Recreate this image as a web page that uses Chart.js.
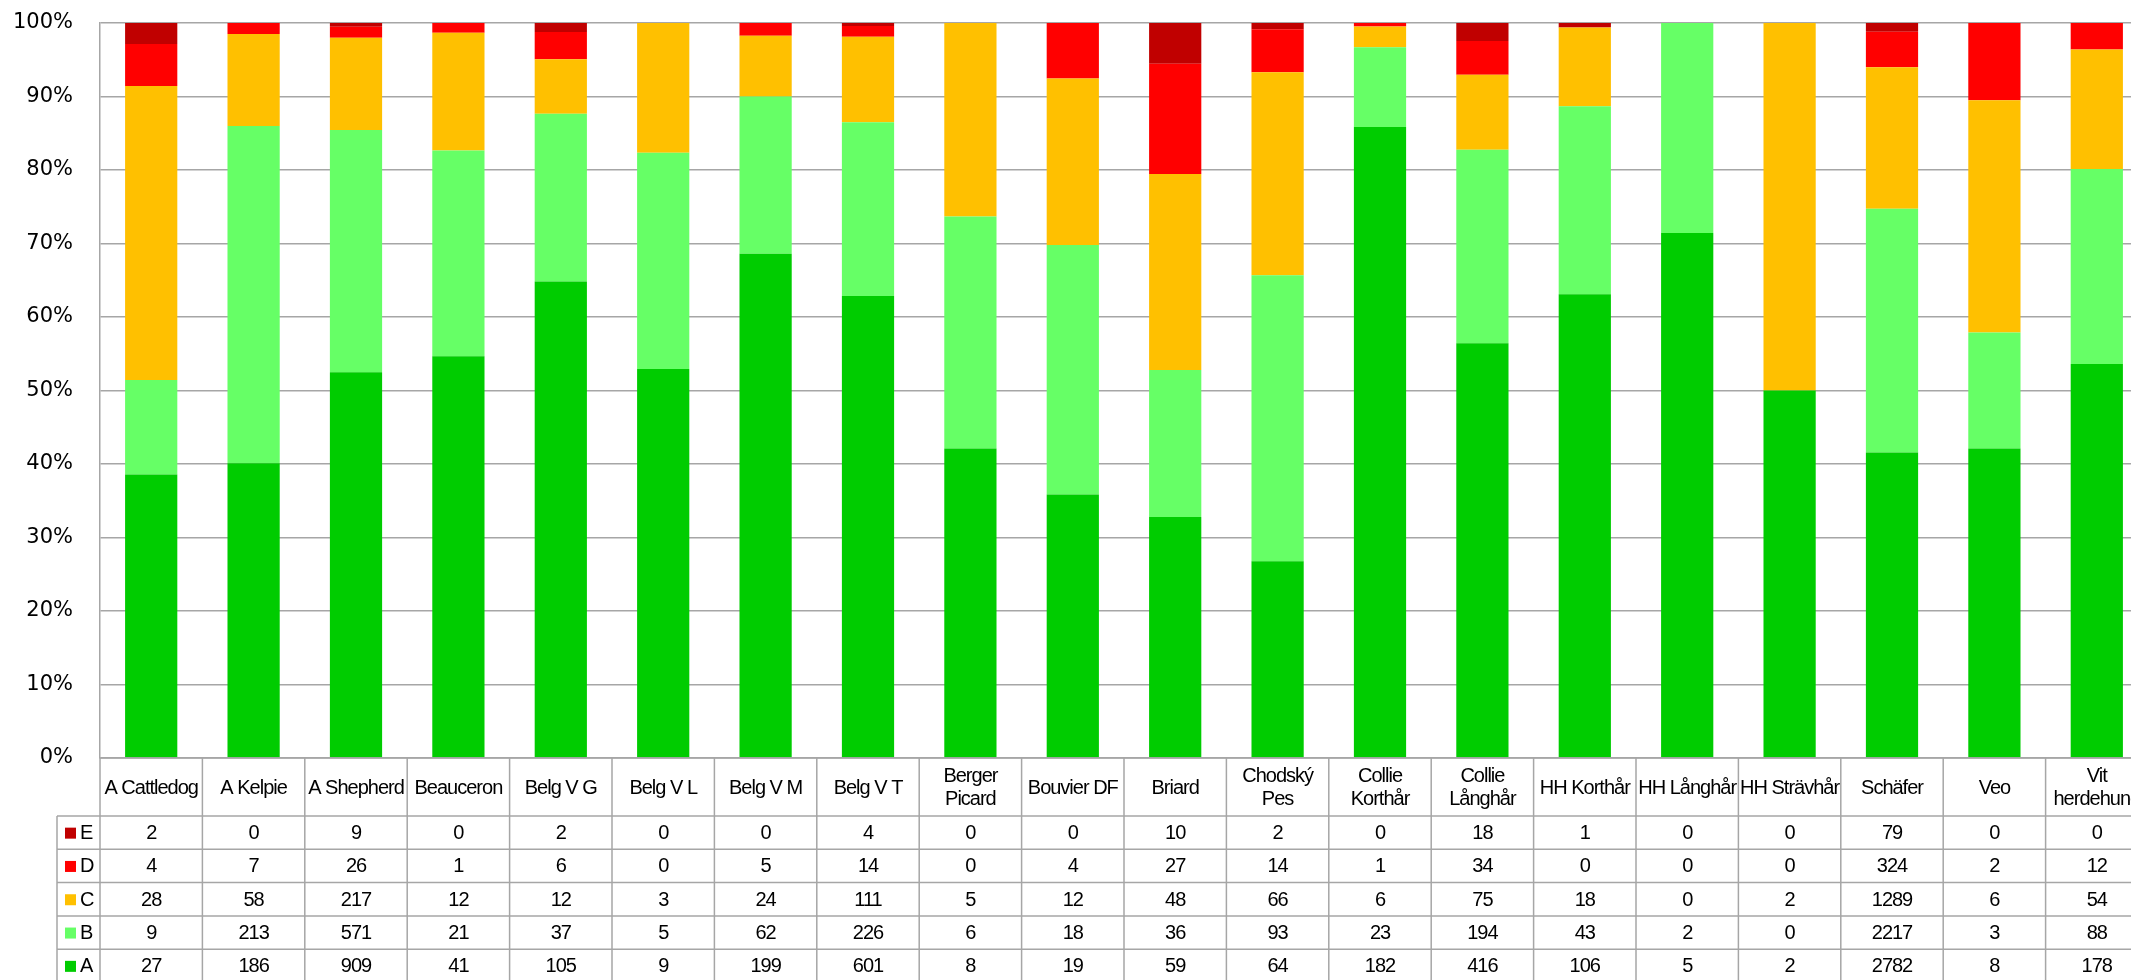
<!DOCTYPE html>
<html>
<head>
<meta charset="utf-8">
<script src="https://cdn.jsdelivr.net/npm/chart.js@4.4.1/dist/chart.umd.min.js"></script>
<style>
    html, body { margin: 0; padding: 0; background: #fff; overflow: hidden; }
    #wrap { width: 2150px; height: 980px; }
</style>
</head>
<body>
<div id="wrap"><canvas id="chart" width="2150" height="980"></canvas></div>
<script>
// raser / kategorier
const breeds = [
    'A Cattledog', 'A Kelpie', 'A Shepherd', 'Beauceron', 'Belg V G', 'Belg V L',
    'Belg V M', 'Belg V T', ['Berger', 'Picard'], 'Bouvier DF', 'Briard',
    ['Chodský', 'Pes'], ['Collie', 'Korthår'], ['Collie', 'Långhår'],
    'HH Korthår', 'HH Långhår', 'HH Strävhår', 'Schäfer', 'Veo', ['Vit', 'herdehund']
];

// antal per grad
const countsE = [2, 0, 9, 0, 2, 0, 0, 4, 0, 0, 10, 2, 0, 18, 1, 0, 0, 79, 0, 0];
const countsD = [4, 7, 26, 1, 6, 0, 5, 14, 0, 4, 27, 14, 1, 34, 0, 0, 0, 324, 2, 12];
const countsC = [28, 58, 217, 12, 12, 3, 24, 111, 5, 12, 48, 66, 6, 75, 18, 0, 2, 1289, 6, 54];
const countsB = [9, 213, 571, 21, 37, 5, 62, 226, 6, 18, 36, 93, 23, 194, 43, 2, 0, 2217, 3, 88];
const countsA = [27, 186, 909, 41, 105, 9, 199, 601, 8, 19, 59, 64, 182, 416, 106, 5, 2, 2782, 8, 178];

const yTicks = [0, 10, 20, 30, 40, 50, 60, 70, 80, 90, 100];

const gradeColors = {
    A: '#00cc00',
    B: '#66ff66',
    C: '#ffc000',
    D: '#ff0000',
    E: '#c00000'
};

// tabellrader uppifrån och ner
const tableRows = [
    { label: 'E', data: countsE },
    { label: 'D', data: countsD },
    { label: 'C', data: countsC },
    { label: 'B', data: countsB },
    { label: 'A', data: countsA }
];

const totals = breeds.map((b, i) =>
    countsA[i] + countsB[i] + countsC[i] + countsD[i] + countsE[i]);

const toPercent = arr => arr.map((v, i) => totals[i] ? v / totals[i] * 100 : 0);

const gridColor = '#a6a6a6';
const tableFont = '20px "Liberation Sans", Arial, sans-serif';

// ritar datatabellen under diagrammet
const dataTable = {
    id: 'dataTable',
    afterDraw(chart) {
        const ctx = chart.ctx;
        const xScale = chart.scales.x;
        const area = chart.chartArea;
        const n = breeds.length;
        const cellW = (area.right - area.left) / n;
        const top = area.bottom;
        const headH = 58;
        const rowH = 33.3;
        const rowLeft = 57;
        const bottom = top + headH + rowH * tableRows.length;

        ctx.save();
        ctx.strokeStyle = gridColor;
        ctx.lineWidth = 1.5;

        // horisontella linjer
        ctx.beginPath();
        ctx.moveTo(area.left, top);
        ctx.lineTo(area.right, top);
        for (let r = 0; r <= tableRows.length; r++) {
            const y = top + headH + r * rowH;
            ctx.moveTo(rowLeft, y);
            ctx.lineTo(area.right, y);
        }
        // vertikala linjer
        for (let i = 0; i <= n; i++) {
            const x = area.left + i * cellW;
            ctx.moveTo(x, top);
            ctx.lineTo(x, bottom);
        }
        ctx.moveTo(rowLeft, top + headH);
        ctx.lineTo(rowLeft, bottom);
        ctx.stroke();

        ctx.fillStyle = '#000';
        ctx.font = tableFont;
        ctx.letterSpacing = '-1px';
        ctx.textAlign = 'center';
        ctx.textBaseline = 'middle';

        // rubriker
        breeds.forEach((b, i) => {
            const cx = xScale.getPixelForValue(i);
            const lines = Array.isArray(b) ? b : [b];
            const mid = top + headH / 2 + 1;
            lines.forEach((line, k) => {
                const y = mid + (k - (lines.length - 1) / 2) * 23;
                ctx.fillText(line, cx, y);
            });
        });

        // värden
        tableRows.forEach((row, r) => {
            const cy = top + headH + r * rowH + rowH / 2 + 1;
            row.data.forEach((v, i) => {
                ctx.fillText(String(v), xScale.getPixelForValue(i), cy);
            });
            // legendnyckel
            ctx.fillStyle = gradeColors[row.label];
            ctx.fillRect(65, cy - 6, 11, 11);
            ctx.fillStyle = '#000';
            ctx.textAlign = 'left';
            ctx.fillText(row.label, 80, cy);
            ctx.textAlign = 'center';
        });
        ctx.restore();
    }
};

const datasets = ['A', 'B', 'C', 'D', 'E'].map(g => ({
    label: g,
    data: toPercent({ A: countsA, B: countsB, C: countsC, D: countsD, E: countsE }[g]),
    backgroundColor: gradeColors[g],
    borderWidth: 0,
    barPercentage: 0.51,
    categoryPercentage: 1.0
}));

new Chart(document.getElementById('chart'), {
    type: 'bar',
    data: {
        labels: breeds.map(b => Array.isArray(b) ? b.join(' ') : b),
        datasets: datasets
    },
    options: {
        responsive: false,
        animation: false,
        devicePixelRatio: 1,
        layout: {
            padding: { top: 23, bottom: 222, right: 2, left: 0 }
        },
        plugins: {
            legend: { display: false },
            tooltip: { enabled: false },
            title: { display: false }
        },
        scales: {
            x: {
                display: false,
                stacked: true
            },
            y: {
                stacked: true,
                min: 0,
                max: 100,
                afterFit: scale => {
                    scale.width = 100;
                    // ticks.padding ska inte påverka höjden
                    scale.paddingTop = 13;
                    scale.paddingBottom = 13;
                },
                afterBuildTicks: scale => {
                    scale.ticks = yTicks.map(v => ({ value: v }));
                },
                ticks: {
                    padding: 27,
                    color: '#000',
                    font: { family: '"DejaVu Sans", sans-serif', size: 21 },
                    callback: v => v + '%'
                },
                grid: {
                    color: gridColor,
                    lineWidth: 1.5,
                    drawTicks: false
                },
                border: {
                    display: true,
                    color: gridColor,
                    width: 1.5
                }
            }
        }
    },
    plugins: [dataTable]
});
</script>
</body>
</html>
